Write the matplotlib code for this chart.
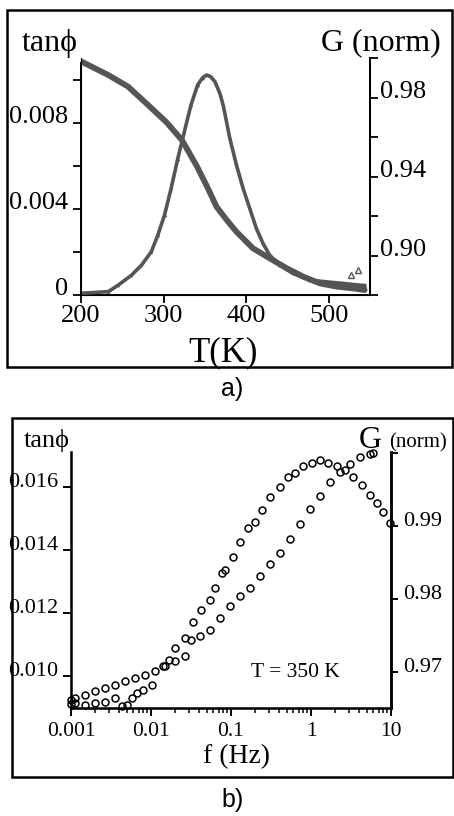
import numpy as np
import matplotlib.pyplot as plt
from matplotlib.patches import Rectangle

W, H = 454, 816
SERIF = ['Liberation Serif', 'DejaVu Serif']
SANS = ['Liberation Sans', 'DejaVu Sans']

# panel a: temperature sweep
T_tan = [201, 233, 257, 281, 303, 322, 340, 353, 364, 376, 388, 408, 428, 449, 469, 489, 509,
         529, 543]
tan_a = [0.01085, 0.01023, 0.00969, 0.00884, 0.00805, 0.00721, 0.0060, 0.0050, 0.0041, 0.0035,
         0.00294, 0.00217, 0.00171, 0.00124, 0.00085, 0.00054, 0.00039, 0.00031, 0.00023]
T_G = [201, 233, 245, 261, 273, 285, 293, 301, 309, 317, 325, 333, 341, 347, 352, 357, 362,
       368, 372, 380, 388, 396, 404, 412, 420, 428, 440, 456, 476, 496, 516, 537, 543]
G_a = [0.8809, 0.8817, 0.885, 0.890, 0.895, 0.9019, 0.9104, 0.9205, 0.934, 0.9490, 0.9627,
       0.9762, 0.9863, 0.990, 0.9914, 0.9905, 0.988, 0.982, 0.976, 0.9593, 0.9458, 0.934,
       0.9239, 0.9138, 0.9062, 0.9003, 0.8952, 0.891, 0.8876, 0.8867, 0.8859, 0.885, 0.8848]
T_spike = [527, 535]
G_spike = [0.890, 0.8927]

# panel b: frequency sweep at 350 K
f_tan = [0.001, 0.00112, 0.0015, 0.002, 0.00266, 0.00355, 0.0043, 0.005, 0.00575, 0.0066, 0.008,
         0.0102, 0.0143, 0.017, 0.02, 0.0266, 0.0338, 0.0427, 0.0546, 0.063, 0.0766, 0.0841,
         0.107, 0.13, 0.164, 0.2, 0.242, 0.307, 0.41, 0.52, 0.63, 0.8, 1.02, 1.3, 1.64, 2.09,
         2.66, 3.38, 4.31, 5.46, 6.62, 8.02, 9.72]
tan_b = [0.0091, 0.00913, 0.00908, 0.00913, 0.00918, 0.00929, 0.00903, 0.00908, 0.00929,
         0.00945, 0.00956, 0.00971, 0.0103, 0.0105, 0.01088, 0.0112, 0.01172, 0.0121, 0.01241,
         0.01278, 0.01326, 0.01337, 0.01379, 0.01426, 0.01469, 0.0149, 0.01527, 0.01569,
         0.01601, 0.01633, 0.01644, 0.01665, 0.01675, 0.01686, 0.01675, 0.01665, 0.01654,
         0.01633, 0.01606, 0.01575, 0.01548, 0.01522, 0.01485]
f_G = [0.001, 0.00112, 0.0015, 0.002, 0.00266, 0.00355, 0.00473, 0.0063, 0.00841, 0.0112,
       0.015, 0.02, 0.0266, 0.0316, 0.041, 0.0546, 0.0729, 0.0972, 0.13, 0.173, 0.23, 0.307,
       0.41, 0.546, 0.729, 0.972, 1.3, 1.73, 2.3, 3.07, 4.1, 5.46, 6.03]
G_b = [0.9661, 0.96637, 0.96683, 0.96728, 0.96775, 0.96821, 0.96866, 0.96913, 0.96959, 0.97004,
       0.97073, 0.97142, 0.97211, 0.9743, 0.97487, 0.97579, 0.97741, 0.97901, 0.98038, 0.98154,
       0.98314, 0.98476, 0.98637, 0.9882, 0.99027, 0.99234, 0.99418, 0.99602, 0.9974, 0.99855,
       0.99947, 0.99992, 1.0]


def box(x0, y0, x1, y1):
    return [x0 / W, 1 - y1 / H, (x1 - x0) / W, (y1 - y0) / H]


def ftext(x, y, s, **kw):
    fig.text(x / W, 1 - y / H, s, ha='center', va='center', **kw)


fig = plt.figure(figsize=(W / 100, H / 100), dpi=100)

for x0, y0, x1, y1 in [(7, 10, 452, 367), (12, 418, 453, 777)]:
    fig.patches.append(Rectangle((x0 / W, 1 - y1 / H), (x1 - x0) / W, (y1 - y0) / H,
                                 transform=fig.transFigure, fill=False, lw=1.8, ec='black'))

# ---- panel a ----
gray = '#555555'
ax = fig.add_axes(box(81, 58, 370, 295))
ax2 = ax.twinx()
ax.plot(T_tan, tan_a, color=gray, lw=4.2, solid_capstyle='round')
ax2.plot(T_G, G_a, color=gray, lw=2.6, marker='^', ms=2.5, mew=0)
ax2.plot(T_spike, G_spike, ls='none', marker='^', ms=4, mfc='none', mec=gray, mew=1)
ax.set_xlim(200, 549.5)
ax.set_ylim(0, 0.004 * 237 / 86)
ax2.set_ylim(0.88, 0.88 + 0.02 * 237 / 39.5)
ax.spines['top'].set_visible(False)
ax2.spines['top'].set_visible(False)
ax.spines['left'].set_bounds(0, 0.0108)
for sp in ax.spines.values():
    sp.set_linewidth(1.4)
ax2.spines['right'].set_linewidth(1.4)
ax.set_xticks([200, 300, 400, 500])
ax.set_xticklabels(['200', '300', '400', '500'], family=SERIF, fontsize=19)
ax.set_yticks([0, 0.002, 0.004, 0.006, 0.008, 0.010])
ax.set_yticklabels(['0', '', '0.004', '', '0.008', ''], family=SERIF, fontsize=19, va='baseline')
ax2.set_yticks([0.88, 0.90, 0.92, 0.94, 0.96, 0.98, 1.0])
ax2.set_yticklabels(['', '0.90', '', '0.94', '', '0.98', ''], family=SERIF, fontsize=19, va='baseline')
ax.tick_params(axis='both', direction='out', length=6, width=1.3, pad=3)
ax.tick_params(axis='x', pad=1)
ax2.tick_params(axis='y', direction='out', length=6, width=1.3, pad=1)
ftext(50, 43, 'tanϕ', family=SERIF, fontsize=23)
ftext(381, 43, 'G (norm)', family=SERIF, fontsize=23)
ftext(223, 353, 'T(K)', family=SERIF, fontsize=25)
ftext(232, 389, 'a)', family=SANS, fontsize=18)

# ---- panel b ----
bx = fig.add_axes(box(71, 452, 391, 708))
bx2 = bx.twinx()
bx.plot(f_tan, tan_b, ls='none', marker='o', ms=5, mfc='none', mec='black', mew=1.1, clip_on=False)
bx2.plot(f_G, G_b, ls='none', marker='o', ms=5, mfc='none', mec='black', mew=1.1, clip_on=False)
bx.set_xscale('log')
bx.set_xlim(0.001, 10)
bx.set_ylim(0.00898, 0.01711)
bx2.set_ylim(0.965, 1.0002)
bx.spines['top'].set_visible(False)
bx2.spines['top'].set_visible(False)
for sp in bx.spines.values():
    sp.set_linewidth(1.8)
bx2.spines['right'].set_linewidth(1.8)
bx.set_xticks([0.001, 0.01, 0.1, 1, 10])
bx.set_xticklabels(['0.001', '0.01', '0.1', '1', '10'], family=SERIF, fontsize=15.5)
bx.set_yticks([0.010, 0.012, 0.014, 0.016])
bx.set_yticklabels(['0.010', '0.012', '0.014', '0.016'], family=SERIF, fontsize=16, va='baseline')
bx2.set_yticks([0.97, 0.98, 0.99, 1.0])
bx2.set_yticklabels(['0.97', '0.98', '0.99', ''], family=SERIF, fontsize=16, va='baseline')
bx.tick_params(axis='both', which='major', direction='out', length=6, width=1.4, pad=3)
bx.tick_params(axis='x', which='minor', direction='out', length=3.5, width=1.1)
bx.tick_params(axis='x', pad=4)
bx2.tick_params(axis='y', direction='out', length=5, width=1.4, pad=4)
bx.text(0.001 * 10 ** 2.8, 0.0101, 'T = 350 K', family=SERIF, fontsize=15.5, ha='center', va='center')
ftext(47, 440, 'tanϕ', family=SERIF, fontsize=19)
ftext(370, 440, 'G', family=SERIF, fontsize=23)
ftext(418, 443, '(norm)', family=SERIF, fontsize=15)
ftext(237, 757, 'f (Hz)', family=SERIF, fontsize=20)
ftext(233, 800, 'b)', family=SANS, fontsize=18)

fig.savefig('out.png', dpi=100)
